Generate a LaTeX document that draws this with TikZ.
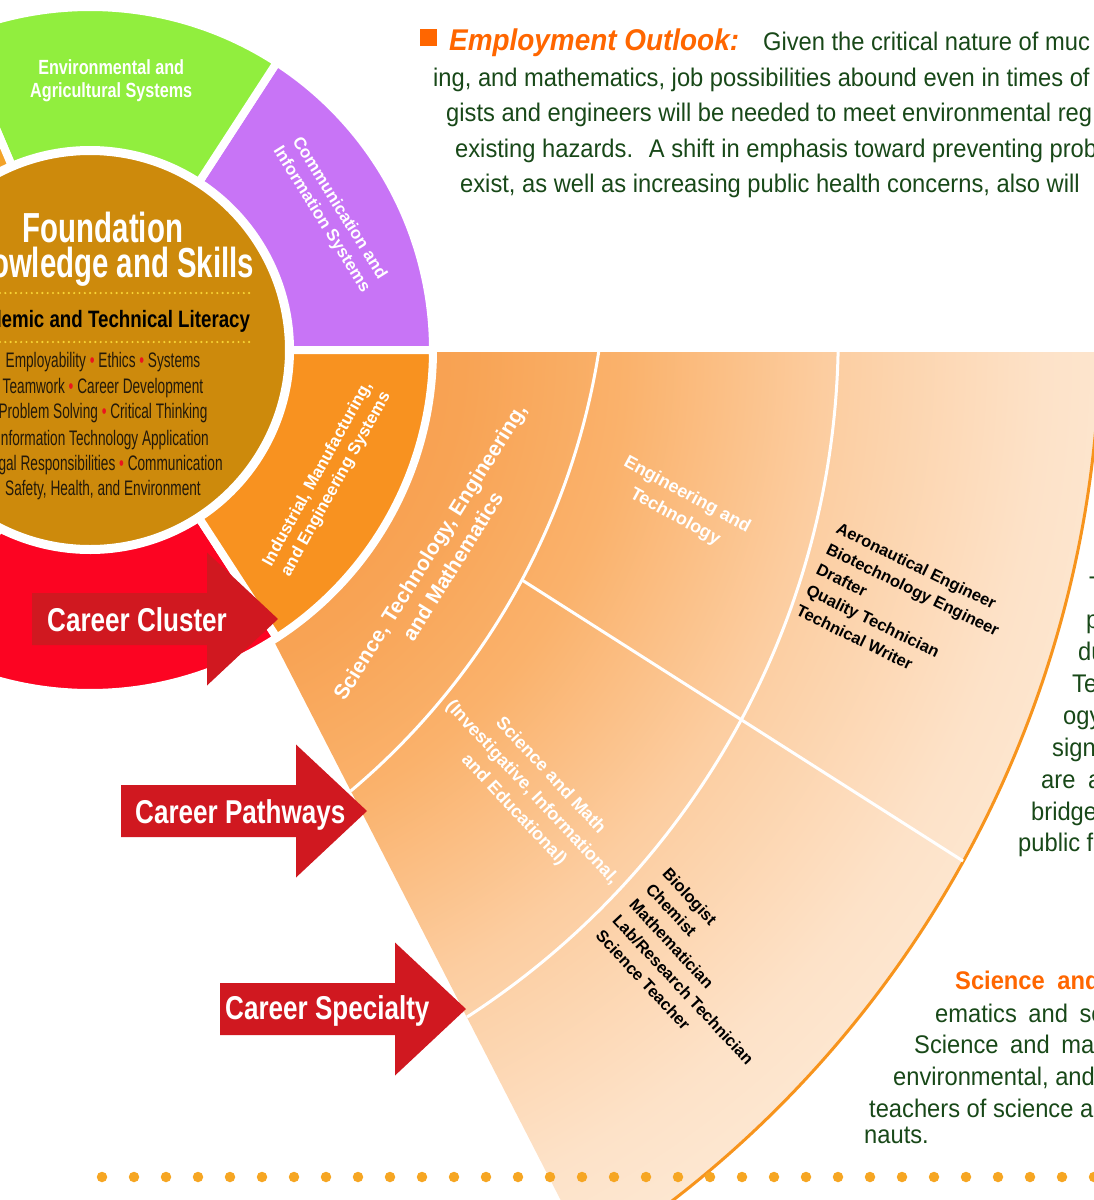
\documentclass[tikz,border=0pt]{standalone}
\usepackage{fontspec}
\setmainfont{Liberation Sans}
\newfontfamily\condfont[FakeStretch=0.70]{Liberation Sans}
\newfontfamily\narrowfont[FakeStretch=0.79]{Liberation Sans}
\newfontfamily\tightfont[FakeStretch=0.65]{Liberation Sans}
\newfontfamily\bodyfont[FakeStretch=0.93]{Liberation Sans}
\definecolor{leafgreen}{RGB}{145,238,62}
\definecolor{lilac}{RGB}{200,116,246}
\definecolor{goldcore}{RGB}{205,138,12}
\definecolor{indorange}{RGB}{248,146,32}
\definecolor{ambertab}{RGB}{243,163,42}
\definecolor{hotred}{RGB}{252,4,34}
\definecolor{arrowred}{RGB}{208,24,32}
\definecolor{fanA}{RGB}{246,150,66}
\definecolor{fanB}{RGB}{248,163,84}
\definecolor{fanC}{RGB}{250,178,108}
\definecolor{fanD}{RGB}{252,205,160}
\definecolor{fanE}{RGB}{253,226,200}
\definecolor{fanF}{RGB}{254,236,218}
\definecolor{rimorange}{RGB}{247,148,29}
\definecolor{inkgreen}{RGB}{24,72,24}
\definecolor{headorange}{RGB}{255,102,0}
\definecolor{dotorange}{RGB}{246,166,35}
\definecolor{dotyellow}{RGB}{248,212,52}
\definecolor{bulletred}{RGB}{235,20,30}
\definecolor{coreink}{RGB}{35,25,10}
% 25bp of the shading is stretched to the radius of the shaded circle
\pgfdeclareradialshading{fanglow}{\pgfpoint{0bp}{0bp}}{%
  color(0bp)=(fanA); color(7.7bp)=(fanB); color(11.4bp)=(fanC);
  color(15.9bp)=(fanD); color(20.9bp)=(fanE); color(25bp)=(fanF); color(50bp)=(fanF)}
\newcommand{\redbullet}{\textcolor{bulletred}{\textbullet}}
\tikzset{
  seg/.style={draw=white, line width=8pt, line join=round},
  rim/.style={draw=rimorange, line width=3pt},
  divider/.style={draw=white, line width=3pt},
  ringlabel/.style={text=white, font=\bfseries\fontsize{17}{21}\selectfont, align=center, inner sep=0pt},
  fanlabel/.style={text=white, font=\bfseries\fontsize{18}{25}\selectfont, align=center, inner sep=0pt},
  joblist/.style={text=black, font=\bfseries\fontsize{16.5}{22.8}\selectfont, align=left, inner sep=0pt},
  coretitle/.style={text=white, font=\condfont\bfseries\fontsize{42}{46}\selectfont, anchor=base, inner sep=0pt},
  coresub/.style={text=black, font=\narrowfont\bfseries\fontsize{23.7}{26}\selectfont, anchor=base, inner sep=0pt},
  coreline/.style={text=coreink, font=\tightfont\fontsize{21}{25}\selectfont, anchor=base, inner sep=0pt},
  golddots/.style={draw=dotyellow, line width=2.4pt, line cap=round, dash pattern=on 0pt off 5.3pt},
  careerlabel/.style={text=white, font=\narrowfont\bfseries\fontsize{33}{36}\selectfont, anchor=base west, inner sep=0pt},
  redarrow/.pic={\fill[arrowred] (0,26) -- (175,26) -- (175,66.5) -- (246,0) -- (175,-66.5) -- (175,-26) -- (0,-26) -- cycle;},
  bodyline/.style={text=inkgreen, font=\bodyfont\fontsize{25.5}{35}\selectfont, anchor=base west, inner sep=0pt},
  dotrow/.style={draw=dotorange, line width=10.5pt, line cap=round, dash pattern=on 0pt off 32pt}
}

\begin{document}
\begin{tikzpicture}[x=1pt, y=1pt]
  \useasboundingbox (0,0) rectangle (1094,-1200);
  \clip (0,0) rectangle (1094,-1200);
  \coordinate (hub) at (90,-350);
  \coordinate (fanhub) at (125,-352);

  % STEM cluster opened out into a fan
  \begin{scope}
    \clip (434,-352) -- (1100,-352) arc[start angle=-1.15, end angle=-57.55, radius=1100]
      -- (273.8,-640.8) arc[start angle=-57.7, end angle=-0.33, radius=344] -- cycle;
    \shade[shading=fanglow] (fanhub) circle[radius=1100];
  \end{scope}
  \draw[rim] (1100,-352) arc[start angle=-1.15, end angle=-57.55, radius=1100];
  \draw[divider] (598.7,-352) arc[start angle=-9.01, end angle=-49.9, radius=721.6];
  \draw[divider] (838.1,-352) arc[start angle=-1.22, end angle=-57.1, radius=812.7];
  \coordinate (splitA) at (522,-580);
  \coordinate (splitB) at (963,-861);
  \draw[divider] (splitA) -- (splitB);

  \node[fanlabel, font=\bfseries\fontsize{21}{27}\selectfont, rotate=58] (stemlabel) at (441,-559) {Science, Technology, Engineering,\\and Mathematics};
  \node[fanlabel, rotate=-28.5] (englabel) at (681,-506) {Engineering and\\Technology};
  \node[fanlabel, rotate=-47] (scilabel) at (532,-793) {Science and Math\\(Investigative, Informational,\\and Educational)};
  \node[joblist, rotate=-26] (engjobs) at (903,-610) {Aeronautical Engineer\\Biotechnology Engineer\\Drafter\\Quality Technician\\Technical Writer};
  \node[joblist, rotate=-47] (scijobs) at (700,-974) {Biologist\\Chemist\\Mathematician\\Lab/Research Technician\\Science Teacher};

  % cluster wheel
  \begin{scope}[shift={(hub)}]
    \filldraw[seg, fill=lilac] (0:200) arc[start angle=0, end angle=57, radius=200]
      -- (57:343) arc[start angle=57, end angle=0, radius=343] -- cycle;
    \filldraw[seg, fill=leafgreen] (57:200) arc[start angle=57, end angle=113, radius=200]
      -- (113:343) arc[start angle=113, end angle=57, radius=343] -- cycle;
    \filldraw[seg, fill=ambertab] (113:200) arc[start angle=113, end angle=180, radius=200]
      -- (180:343) arc[start angle=180, end angle=113, radius=343] -- cycle;
    \filldraw[seg, fill=hotred] (-117:200) arc[start angle=-117, end angle=-57, radius=200]
      -- (-57:343) arc[start angle=-57, end angle=-117, radius=343] -- cycle;
    \filldraw[seg, fill=indorange] (-57:200) arc[start angle=-57, end angle=0, radius=200]
      -- (0:343) arc[start angle=0, end angle=-57, radius=343] -- cycle;
    \filldraw[fill=goldcore, draw=white, line width=4pt] (0,0) circle[radius=197];

    \node[ringlabel, font=\narrowfont\bfseries\fontsize{20.5}{23}\selectfont] (agrilabel) at (85.5:270) {Environmental and\\Agricultural Systems};
    \node[ringlabel, rotate=-58] (commlabel) at (29.5:276) {Communication and\\Information Systems};
    \node[ringlabel, rotate=61] (induslabel) at (-28.6:270) {Industrial, Manufacturing,\\and Engineering Systems};
  \end{scope}

  % foundation core
  \node[coretitle] (foundtitle) at (103,-242) {Foundation};
  \node[coretitle] (knowtitle) at (103,-277) {Knowledge and Skills};
  \draw[golddots] (0,-293) -- (252,-293);
  \node[coresub] (literacy) at (103,-327) {Academic and Technical Literacy};
  \draw[golddots] (0,-342) -- (252,-342);
  \node[coreline] (skill1) at (103,-367) {Employability \redbullet{} Ethics \redbullet{} Systems};
  \node[coreline] (skill2) at (103,-393) {Teamwork \redbullet{} Career Development};
  \node[coreline] (skill3) at (103,-418) {Problem Solving \redbullet{} Critical Thinking};
  \node[coreline] (skill4) at (103,-445) {Information Technology Application};
  \node[coreline] (skill5) at (103,-470) {Legal Responsibilities \redbullet{} Communication};
  \node[coreline] (skill6) at (103,-495) {Safety, Health, and Environment};

  % level arrows
  \pic (clusterarrow) at (32,-619) {redarrow};
  \node[careerlabel] (clusterlabel) at (47,-631) {Career Cluster};
  \pic (pathwayarrow) at (121,-811) {redarrow};
  \node[careerlabel] (pathwaylabel) at (135,-823) {Career Pathways};
  \pic (specialtyarrow) at (220,-1009) {redarrow};
  \node[careerlabel] (specialtylabel) at (225,-1019) {Career Specialty};

  % running text
  \node[fill=headorange, minimum size=17pt, inner sep=0pt, anchor=north west] (outlookmark) at (420,-29) {};
  \node[bodyline] (outlook1) at (449,-50) {{\color{headorange}\bfseries\itshape\fontsize{30}{35}\selectfont Employment Outlook:}\hspace{24pt}Given the critical nature of muc};
  \node[bodyline] (outlook2) at (433,-86) {ing, and mathematics, job possibilities abound even in times of};
  \node[bodyline] (outlook3) at (446,-121) {gists and engineers will be needed to meet environmental reg};
  \node[bodyline] (outlook4) at (455,-157) {existing hazards.\hspace{7pt} A shift in emphasis toward preventing prob};
  \node[bodyline] (outlook5) at (460,-192) {exist, as well as increasing public health concerns, also will};

  \node[bodyline] (side1) at (1089,-594) {T};
  \node[bodyline] (side2) at (1086,-628) {p};
  \node[bodyline] (side3) at (1078,-660) {du};
  \node[bodyline] (side4) at (1072,-692) {Te};
  \node[bodyline] (side5) at (1063,-724) {ogy};
  \node[bodyline] (side6) at (1052,-756) {sign};
  \node[bodyline] (side7) at (1041,-788) {are\hspace{6pt} a};
  \node[bodyline] (side8) at (1031,-820) {bridges};
  \node[bodyline] (side9) at (1018,-851) {public fa};

  \node[bodyline, text=headorange, font=\bodyfont\bfseries\fontsize{25.5}{35}\selectfont] (scihead) at (955,-989) {Science\hspace{6pt} and};
  \node[bodyline] (sci1) at (935,-1022) {ematics\hspace{5pt} and\hspace{5pt} sci};
  \node[bodyline] (sci2) at (914,-1053) {Science\hspace{5pt} and\hspace{5pt} math};
  \node[bodyline] (sci3) at (893,-1085) {environmental, and h};
  \node[bodyline] (sci4) at (869,-1117) {teachers of science and};
  \node[bodyline] (sci5) at (864,-1143) {nauts.};

  \coordinate (dotsL) at (102,-1177);
  \coordinate (dotsR) at (1100,-1177);
  \draw[dotrow] (dotsL) -- (dotsR);
\end{tikzpicture}
\end{document}
